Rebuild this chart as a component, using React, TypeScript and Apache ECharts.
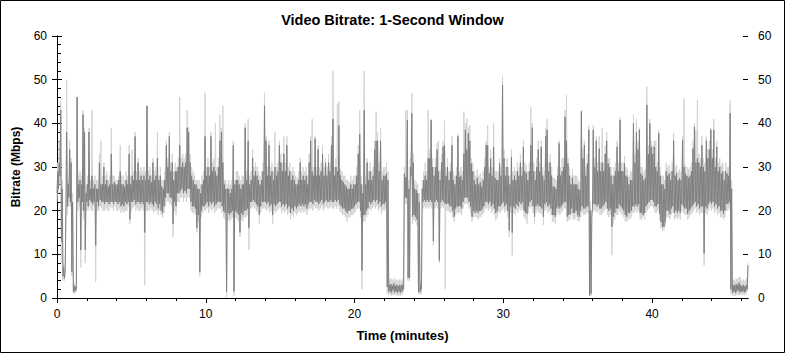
import React, { useEffect, useRef } from "react";
import * as echarts from "echarts";

const TITLE = "Video Bitrate: 1-Second Window";
const X_NAME = "Time (minutes)";
const Y_NAME = "Bitrate (Mbps)";
const STEP_MIN = 0.1; // one column of readings every 0.1 min (low, then high)
const X_MAX = 46.45;
const X_LABEL_TICKS = [0, 10, 20, 30, 40];
const X_MINOR_TICKS = [2, 4, 6, 8, 12, 14, 16, 18, 22, 24, 26, 28, 32, 34, 36, 38, 42, 44, 46];
const X_ALL_TICKS = [0, 2, 4, 6, 8, 10, 12, 14, 16, 18, 20, 22, 24, 26, 28, 30, 32, 34, 36, 38, 40, 42, 44, 46];
const Y_MAX = 60;
const Y_INTERVAL = 10;

// dark trace: per 0.1-min column, lowest and highest reading (one row per minute)
const darkLo = [
  24, 25, 28, 13, 5, 4.5, 20, 21, 23, 22,
  6, 1.5, 1.5, 2, 22, 23, 11, 22, 20, 11,
  22, 21, 22.5, 22, 21.5, 22, 12, 22, 21, 22.5,
  22, 22, 21.5, 22, 22, 21.5, 22, 22, 21.5, 22,
  22, 21.5, 22, 21, 21.5, 21, 22, 21.5, 22, 18,
  22, 22, 22.5, 21.5, 22, 22, 21.5, 22, 21.5, 15,
  22, 22, 21.5, 22, 21.5, 21, 22, 21.5, 20.5, 21.5,
  20, 19.5, 21, 23, 24, 24, 23, 23, 17, 22,
  21, 24, 24, 24.5, 25, 24, 24.5, 24, 25, 25,
  22, 21, 21, 20.5, 16, 19, 6, 20, 21, 21,
  21.5, 22, 21, 22, 21.5, 22, 21, 21.5, 22, 22,
  22, 21, 20, 19.5, 1.5, 19.5, 19, 19.5, 20, 1.5,
  20, 19.5, 19, 15, 19.5, 19, 20, 20, 20.5, 16,
  22, 22, 22.5, 22, 21.5, 21, 19, 21, 22, 22,
  22, 21.5, 22, 21, 21.5, 19, 21.5, 21, 21.5, 22,
  22, 21, 21.5, 21, 21.5, 20.5, 21, 19.5, 20.5, 20,
  21, 20.5, 21, 21.5, 21, 21.5, 21, 21.5, 20.5, 21.5,
  22, 22, 21.5, 22.5, 22, 22, 21.5, 22, 22.5, 21.5,
  22, 22.5, 22, 22, 22.5, 22, 22, 22.5, 22, 22.5,
  21.5, 21, 20.5, 20.5, 20, 19.5, 20, 20, 20.5, 20.5,
  21, 21.5, 22, 22, 20, 6.3, 19, 19, 20, 20.5,
  22, 21.5, 22, 22.5, 22, 22.5, 21.5, 22, 21, 21.5,
  21.5, 22, 2.5, 1.5, 1.5, 1.2, 1.8, 1.3, 1.5, 1.2,
  1.5, 1.2, 1.5, 2, 23, 23, 4.6, 4.6, 28, 18.6,
  19, 18.6, 18, 1.5, 1.4, 2, 22, 22.5, 22, 22.5,
  22, 22.5, 22, 13, 22, 22.5, 22, 8.6, 22, 22.5,
  22, 21.5, 21.6, 21.6, 21, 21, 20, 18.6, 20.5, 21,
  21, 21, 20.5, 22, 23, 23, 23, 22, 21, 18.6,
  20, 19.5, 20, 19.5, 20, 20, 20.5, 21, 22, 22,
  21.5, 22, 21, 21.5, 20.5, 19.5, 20, 21, 21, 21.5,
  22, 21, 21.5, 20, 15.5, 21, 15, 21, 20.5, 21.5,
  21, 22, 21.5, 22, 20, 19.5, 19.3, 21, 22, 22.5,
  21, 18.6, 21, 21.5, 21, 21, 20.5, 18.6, 21.5, 22,
  21, 21.5, 20.5, 19, 19, 18.6, 20.5, 21, 20.5, 21,
  21.5, 22, 22, 18.6, 19, 19.3, 20.5, 19.5, 19.5, 20,
  19, 18.6, 20, 21, 20.5, 20.5, 21, 21, 0.6, 1,
  21, 21.5, 21.5, 21, 21.5, 20.5, 20.5, 21, 21.5, 22,
  20.5, 20, 20.5, 16.3, 18.6, 19.5, 20.5, 20.5, 21.5, 21,
  20.5, 20, 19, 18.6, 19.5, 19.5, 20, 21, 21, 21.5,
  21, 21.5, 19.5, 19.5, 19, 19.5, 21, 21.5, 22, 22.5,
  22.5, 22, 21, 21, 21.5, 19.3, 17.4, 16.3, 16.3, 17.5,
  20, 20, 19.3, 20.5, 21, 19.5, 20, 19.5, 20, 19.5,
  21.5, 21, 20.5, 20.5, 19.3, 20, 20.5, 21, 21.5, 22,
  21, 21.5, 20.5, 21, 21, 10.2, 21, 20.5, 21.5, 22,
  21.5, 22, 21, 21.5, 20.5, 21, 20, 20, 19.3, 20,
  21.6, 21.5, 22, 2, 1.2, 1.5, 1.2, 1.5, 1.8, 1.3,
  1.5, 1.5, 1.3, 1.5, 2,
];

const darkHi = [
  29, 31, 43, 25, 7, 6, 38, 26, 34, 31,
  22, 2.8, 2.5, 46, 26, 27, 26, 42, 38, 24,
  26, 38, 25, 28, 25, 26, 25, 25, 31, 26,
  26, 30, 26, 27, 25.5, 26, 33, 26, 26.5, 26,
  26, 27, 29, 26, 26, 25.5, 27, 26, 33, 26,
  28, 27, 37, 27, 31, 27, 28, 27, 28, 27,
  44, 27, 28, 26.5, 31, 27, 28, 32, 27, 28,
  25.5, 25, 27, 35, 30, 37, 29, 31, 27, 29,
  29, 30, 35, 30, 31, 30, 31, 39, 38, 31,
  28, 27, 26, 26, 25, 25, 24, 26, 27, 37,
  28, 30, 28, 37, 29, 30, 29, 28, 30, 36,
  38, 31, 26, 25, 25, 25, 24, 25, 35, 26,
  27, 27, 26, 25, 26, 26, 39, 27, 36, 26,
  27, 32, 28, 29, 28, 27, 26, 27, 29, 44,
  36, 28, 35, 28, 29, 27, 30, 28, 29, 35,
  31, 29, 33, 29, 35, 28, 29, 27, 28, 27,
  26, 26, 27, 31, 27, 28, 27, 28, 26, 31,
  36, 29, 28, 36.5, 28, 34, 28, 29, 33, 28,
  31, 28, 31, 29, 35, 41, 28, 30, 29, 39.5,
  28, 27, 26.5, 26, 25.5, 25, 25, 26, 25, 26,
  26, 28, 33, 37.5, 26, 24, 43, 26, 31, 27,
  29, 27, 28, 34, 36, 36, 29, 36, 27, 28,
  28, 28.5, 27, 3, 3.2, 2.8, 3.3, 2.8, 3, 2.7,
  3, 2.8, 3.2, 28.5, 27.7, 40.7, 25, 30, 42.3, 31,
  25, 24.7, 24, 22, 3, 25, 27, 28, 27, 32,
  32, 40.7, 30, 28, 30, 34, 29, 27, 31, 34.6,
  35, 28, 30, 27, 29, 35, 27, 26, 28, 37,
  27.7, 28, 27, 33, 38.5, 34, 37.7, 36, 30.8, 29,
  27, 26, 27.5, 26, 26.5, 25.5, 27, 30, 35, 35,
  28.5, 32, 28, 34.6, 27.5, 27, 27, 30.8, 28, 48.8,
  32, 28, 30, 28, 26, 32.3, 27, 28, 27, 29,
  28, 31, 28, 34.6, 29, 28.5, 27, 29, 35, 39,
  29, 27, 30, 34, 29, 34.6, 28, 27, 37, 38.5,
  29, 31, 28, 25.5, 25.5, 25, 28, 35.4, 28, 29,
  30, 41.5, 36, 30.8, 28, 26, 27.5, 26, 26, 26,
  25, 24.7, 42.7, 32, 35, 28, 30.8, 38.5, 20, 18.6,
  38.5, 30, 36, 29, 34.2, 29, 31, 29, 33, 36,
  30.8, 30, 28, 26, 28, 29, 34.6, 29, 40.7, 29,
  29, 30.8, 28, 27.7, 26, 27, 27, 40, 31, 38,
  34, 38.5, 28.5, 28, 27, 27.5, 44.2, 33, 40, 34.6,
  33, 34.6, 30, 29, 37.7, 28, 26, 26, 25, 29,
  28, 28.5, 27, 29, 36, 28, 28.5, 27, 27.5, 27,
  36.2, 30, 28.5, 28, 27.5, 28, 29, 34.2, 39.2, 31,
  32, 31, 30, 35, 30, 29, 36, 32, 34, 38.5,
  32, 38.5, 30, 34.6, 29, 30, 28.5, 29, 27, 29,
  28.5, 28, 42.3, 25, 3, 2.8, 3.2, 3, 3.5, 3,
  2.8, 3, 2.7, 3, 7.5,
];

// light trace: per 0.1-min column, lowest and highest reading
const lightLo = [
  22, 24, 26, 8, 4, 4, 18, 19, 21, 21,
  5, 1, 1, 1.5, 20, 21, 7, 20, 18, 8,
  20, 20, 21, 20, 20, 21, 3.7, 20, 20, 21,
  20.5, 20, 20, 20.5, 20, 20, 21, 20.5, 20, 21,
  20, 20, 20.5, 19.5, 20, 19.5, 20, 20, 21, 17,
  20, 20.5, 21, 20, 20.5, 20, 20, 20.5, 20, 3,
  20, 20, 20, 20.5, 20, 19.5, 20, 20, 19, 20,
  19, 18.5, 19.5, 21, 22, 22, 21.5, 21, 14, 20,
  19, 22, 22, 23, 23, 22, 23, 22, 23, 23,
  20, 19.5, 19.5, 19, 15, 17.5, 5, 18.5, 19.5, 20,
  20, 20.5, 19.5, 20.5, 20, 20.5, 19.5, 20, 20.5, 20.5,
  20.5, 19.5, 18.5, 18, 0.2, 18, 17.5, 18, 18.5, 0.5,
  18.5, 18, 17.5, 14, 18, 17.5, 18.5, 18.5, 19, 11,
  20.5, 20.5, 21, 20.5, 20, 19.5, 17, 19.5, 20.5, 20.5,
  20.5, 20, 20.5, 19.5, 20, 17, 20, 19.5, 20, 20.5,
  20.5, 19.5, 20, 19.5, 20, 19, 19.5, 18, 19, 18.5,
  19.5, 19, 19.5, 20, 19.5, 20, 19.5, 20, 19, 20,
  20.5, 20.5, 20, 21, 20.5, 20.5, 20, 20.5, 21, 20,
  20.5, 21, 20.5, 20.5, 21, 20.5, 20.5, 21, 20.5, 21,
  20, 19.5, 19, 19, 18.5, 17.5, 18.5, 18.5, 19, 19,
  19.5, 20, 20.5, 20.5, 18.5, 2, 17.5, 17.5, 18.5, 19,
  20.5, 20, 20.5, 21, 20.5, 21, 20, 20.5, 19.3, 20,
  20, 20.5, 1, 0.6, 0.8, 0.5, 0.8, 0.6, 0.7, 0.5,
  0.6, 0.5, 0.7, 1.5, 21.5, 21.5, 4, 4, 26, 17,
  17.8, 17.5, 16.7, 1, 0.8, 1, 20.5, 21, 20.5, 21,
  20.5, 21, 20.5, 12, 20.5, 21, 20.5, 8, 20.5, 21,
  20.5, 2.1, 20, 20, 19.5, 19.5, 18.5, 17.5, 19, 19.5,
  19.5, 19.5, 19, 20.5, 21.5, 21.5, 21.5, 20.5, 19.5, 17.5,
  18.5, 18.5, 18.5, 18, 18.5, 18.5, 19, 19.5, 20.5, 20.5,
  20, 20.5, 19.5, 20, 19, 17.8, 18.5, 19.5, 19.5, 20,
  20.5, 19.5, 20, 18.5, 14, 19.5, 9.8, 19.5, 19, 20,
  19.5, 20.5, 20, 20.5, 18.5, 18, 17, 19.5, 20.5, 21,
  19.5, 17, 19.5, 20, 19.5, 19.5, 19, 16.7, 20, 20.5,
  19.5, 20, 19, 17.5, 17.5, 17, 19, 19.5, 19, 19.5,
  20, 20.5, 20.5, 17.5, 17.8, 18, 19, 18, 18, 18.5,
  17.8, 17.5, 18.5, 19.5, 19, 19, 19.5, 19.5, 0.5, 0.5,
  19.5, 20, 20, 19.5, 20, 19, 19, 19.5, 20, 20.5,
  19, 18.5, 19, 9.8, 17, 18, 19, 19, 20, 19.5,
  19, 18.5, 17.5, 17.5, 18, 18, 18.5, 19.5, 19.5, 20,
  19.5, 20, 18, 18, 18.6, 18, 19.5, 20, 20.5, 21,
  21, 20.5, 19.5, 19.5, 20, 18, 16, 15.5, 15.5, 16.5,
  18.5, 18.5, 18, 19, 19.5, 18, 18.5, 18, 18.5, 18,
  20, 19.5, 19, 19, 18, 18.5, 19, 19.5, 20, 20.5,
  19.5, 20, 19, 19.5, 19.5, 7.5, 19.5, 19, 20, 20.5,
  20, 20.5, 19.5, 20, 19, 19.5, 18.5, 18.5, 18, 18.5,
  20, 20, 20.5, 1, 0.5, 0.6, 0.5, 0.7, 0.8, 0.6,
  0.7, 0.8, 0.6, 0.8, 1.5,
];

const lightHi = [
  31, 36, 45, 27, 8, 8, 50, 27, 36, 32,
  24, 3.5, 3, 46, 28, 29, 28, 43, 39, 26,
  28, 39, 27, 43, 27, 28, 27, 27, 33, 36,
  28, 31, 28, 29, 27, 28, 39, 28, 28, 27,
  27, 28, 35, 28, 28, 27, 29, 28, 35, 28,
  34, 29, 38, 29, 32, 29, 30, 29, 30, 29,
  44, 29, 30, 28, 32, 29, 30, 38, 28, 30,
  27, 27, 29, 36, 32, 38, 31, 33, 29, 31,
  30, 32, 46, 32, 33, 32, 33, 43, 39, 33,
  30, 29, 28, 27, 27, 27, 26, 28, 29, 47,
  30, 32, 30, 38, 31, 32, 40, 30, 32, 42,
  39, 44, 27, 27, 26, 27, 26, 27, 36, 27,
  29, 29, 28, 27, 28, 28, 40, 29, 41, 28,
  29, 34, 30, 31, 30, 29, 28, 29, 31, 47,
  37, 30, 36, 30, 31, 29, 38, 30, 31, 36,
  33, 31, 37, 31, 37, 30, 31, 29, 30, 29,
  28, 27.5, 29, 32, 29, 30, 29, 30, 28, 33,
  37, 41, 30, 37, 30, 35, 30, 31, 35, 30,
  32, 30, 33, 31, 37, 52, 30, 32, 44.5, 45,
  29.5, 29, 28, 28, 27, 27, 26.5, 28, 27, 28,
  28, 30, 35, 43, 28, 26, 52, 28, 32, 29,
  31, 29, 30, 36, 42.7, 38, 31, 39, 29, 30,
  30, 31, 29, 4.3, 4.5, 4, 4.5, 4, 4.3, 4,
  4.3, 4, 4.5, 30, 43, 43, 27, 32, 47, 33,
  27, 26.5, 26, 24, 4, 27, 29, 31, 29, 43,
  34, 41, 32, 30, 32, 35.5, 36, 29, 33, 36,
  40.7, 30, 32, 29, 31, 37, 29, 28, 30, 37.5,
  29, 30, 29, 42.7, 40, 41, 39, 39.6, 32, 31,
  29, 28, 29.5, 28, 28.5, 27.5, 29, 32, 36, 39.6,
  30, 34, 30, 40, 29, 29, 29, 32, 30, 50.7,
  34, 30, 32, 30, 28, 34, 29, 30, 29, 31,
  30, 33, 30, 36, 31, 30.5, 29, 31, 43.7, 40,
  31, 29, 32, 36, 31, 36, 30, 29, 39, 41,
  31, 33, 30, 27.5, 27.5, 27, 30, 36, 30, 32,
  32, 43, 46.5, 32, 30, 28, 29.5, 28, 28, 28,
  27, 26.5, 43, 34, 36, 30, 33, 39.6, 22, 20,
  39.6, 32, 37, 31, 37, 31, 39, 31, 35, 38,
  32, 32, 30, 28, 30, 31, 36, 31, 41.4, 31,
  31, 32.5, 30, 29.5, 28, 29, 29, 42, 33, 41,
  36, 39, 30, 30, 29, 29.5, 48.4, 35, 41, 36,
  35, 36, 36, 31, 38.5, 30, 28, 28, 27, 31,
  30, 30.5, 29, 31, 37.7, 30, 30.5, 29, 29.5, 29,
  37, 45.7, 30.5, 30, 29.5, 30, 31, 36, 40, 38.5,
  45.3, 33, 32, 37, 32, 31, 37, 34, 36, 39,
  34, 41, 32, 36, 31, 32, 30.5, 31, 29, 31,
  30, 30, 45.2, 27, 4.2, 4, 4.5, 4.3, 4.8, 4.8,
  4, 4.3, 4, 4.5, 8,
];

const FONT = "'Liberation Sans', Arial, sans-serif";

export default function App() {
  const ref = useRef<HTMLDivElement>(null);
  useEffect(() => {
    if (!ref.current) return;
    const chart = echarts.init(ref.current, null, { renderer: "svg" });
    // each column becomes a low point followed by a high point half a step later
    const toPairs = (lo: number[], hi: number[]) => {
      const out: number[][] = [];
      lo.forEach((v, i) => {
        const t = i * STEP_MIN;
        out.push([Math.round(t * 1000) / 1000, v]);
        out.push([Math.round((t + STEP_MIN / 2) * 1000) / 1000, hi[i]]);
      });
      return out;
    };
    const black = { color: "#000", width: 1 };
    const baseX = { type: "value", min: 0, max: X_MAX, splitLine: { show: false } };
    const baseY = { type: "value", min: 0, max: Y_MAX, interval: Y_INTERVAL, splitLine: { show: false } };
    chart.setOption({
      animation: false,
      backgroundColor: "#ffffff",
      title: {
        text: TITLE,
        left: "center",
        top: 7,
        textStyle: { fontFamily: FONT, fontSize: 14.5, fontWeight: "bold", color: "#000" },
      },
      grid: { left: 57, right: 37, top: 36, bottom: 55 },
      xAxis: [
        {
          ...baseX,
          position: "bottom",
          name: X_NAME,
          nameLocation: "middle",
          nameGap: 31,
          nameTextStyle: { fontFamily: FONT, fontSize: 13, fontWeight: "bold", color: "#000" },
          axisLine: { show: true, lineStyle: black },
          axisTick: { show: true, customValues: X_LABEL_TICKS, length: 5, lineStyle: black },
          axisLabel: { customValues: X_LABEL_TICKS, margin: 10, fontSize: 12, color: "#000", fontFamily: FONT },
        },
        {
          ...baseX,
          position: "bottom",
          axisLine: { show: false },
          axisTick: { show: true, customValues: X_MINOR_TICKS, length: 3, lineStyle: black },
          axisLabel: { show: false },
        },
        {
          ...baseX,
          position: "top",
          axisLine: { show: true, lineStyle: black },
          axisTick: { show: true, inside: true, customValues: X_ALL_TICKS, length: 3, lineStyle: black },
          axisLabel: { show: false },
        },
      ],
      yAxis: [
        {
          ...baseY,
          position: "left",
          name: Y_NAME,
          nameLocation: "middle",
          nameGap: 35,
          nameRotate: 90,
          nameTextStyle: { fontFamily: FONT, fontSize: 12, fontWeight: "bold", color: "#000" },
          axisLine: { show: true, lineStyle: black },
          axisTick: { show: true, length: 5, lineStyle: black },
          axisLabel: { margin: 10, fontSize: 12, color: "#000", fontFamily: FONT },
        },
        {
          ...baseY,
          position: "left",
          axisLine: { show: false },
          axisTick: { show: true, inside: true, length: 5, lineStyle: black },
          minorTick: { show: true, splitNumber: 5, length: 4, lineStyle: black },
          axisLabel: { show: false },
        },
        {
          ...baseY,
          position: "right",
          axisLine: { show: true, lineStyle: black },
          axisTick: { show: true, length: 5, lineStyle: black },
          minorTick: { show: true, splitNumber: 5, length: 3, lineStyle: black },
          axisLabel: { margin: 10, fontSize: 12, color: "#000", fontFamily: FONT },
        },
        {
          ...baseY,
          position: "right",
          axisLine: { show: false },
          axisTick: { show: true, inside: true, length: 5, lineStyle: black },
          axisLabel: { show: false },
        },
      ],
      graphic: [
        {
          type: "rect",
          shape: { x: 0.5, y: 0.5, width: 784, height: 352 },
          style: { fill: "none", stroke: "#000", lineWidth: 1 },
          silent: true,
        },
      ],
      series: [
        {
          type: "line",
          xAxisIndex: 0,
          yAxisIndex: 0,
          data: toPairs(lightLo, lightHi),
          showSymbol: false,
          symbol: "none",
          lineStyle: { color: "#d3d3d3", width: 1 },
          silent: true,
        },
        {
          type: "line",
          xAxisIndex: 0,
          yAxisIndex: 0,
          data: toPairs(darkLo, darkHi),
          showSymbol: false,
          symbol: "none",
          lineStyle: { color: "#808080", width: 1 },
          silent: true,
        },
      ],
    });
    return () => chart.dispose();
  }, []);
  return (
    <div
      ref={ref}
      style={{ position: "absolute", left: 0, top: 0, width: 785, height: 353 }}
    />
  );
}
